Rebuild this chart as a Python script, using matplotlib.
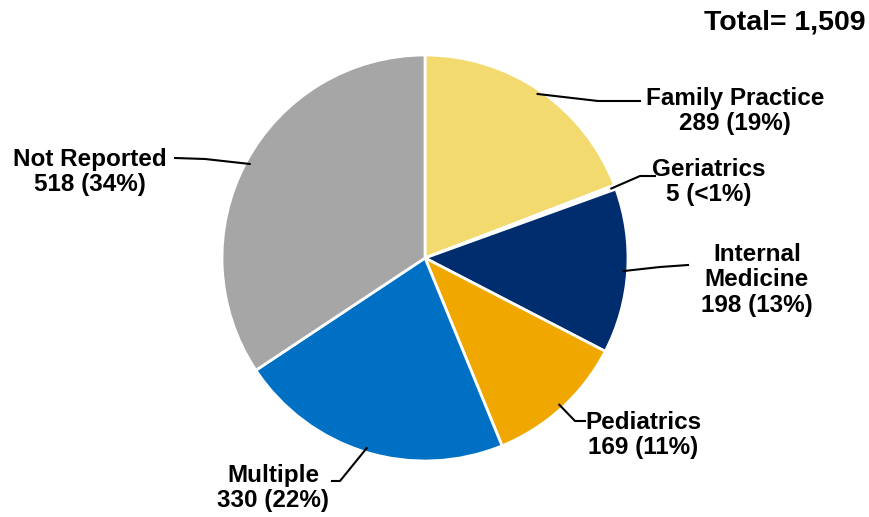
import numpy as np
import matplotlib.pyplot as plt

plt.rcParams['font.family'] = ['Liberation Sans', 'DejaVu Sans']

# Data
categories = ['Family Practice', 'Geriatrics', 'Internal\nMedicine', 'Pediatrics', 'Multiple', 'Not Reported']
counts = [289, 5, 198, 169, 330, 518]
pct_labels = ['19%', '<1%', '13%', '11%', '22%', '34%']
colors = ['#F2DA6E', '#FFFFFF', '#002D6E', '#F0A800', '#0070C4', '#A6A6A6']

W, H = 870, 517
cx, cy, R = 425, 258, 203

fig = plt.figure(figsize=(W / 100, H / 100), dpi=100)
ax = fig.add_axes([(cx - R) / W, (H - cy - R) / H, 2 * R / W, 2 * R / H])
wedges, _ = ax.pie(counts, colors=colors, startangle=90, counterclock=False,
                   radius=1, wedgeprops=dict(edgecolor='white', linewidth=2))
ax.set_xlim(-1, 1)
ax.set_ylim(-1, 1)
ax.set_aspect('equal')
ax.axis('off')


def px(x, y):
    # pixel position -> data coords of pie axes
    return (x - cx) / R, (cy - y) / R


# label layout (pixel): elbow point, line end, text centre
layout = [
    ((598, 101), (640, 101), (735, 111)),
    ((640, 176), (655, 176), (709, 182)),
    ((660, 267), (688, 265), (757, 280)),
    ((575, 421), (585, 421), (643, 435)),
    ((340, 481), (332, 481), (273, 488)),
    ((205, 159), (175, 158), (90, 172)),
]

total = sum(counts)
cum = 0
for i, c in enumerate(counts):
    mid = (cum + c / 2) / total * 2 * np.pi
    cum += c
    sx, sy = 0.98 * np.sin(mid), 0.98 * np.cos(mid)
    elbow, end, txt = layout[i]
    ex, ey = px(*elbow)
    fx, fy = px(*end)
    ax.plot([sx, ex, fx], [sy, ey, fy], color='black', lw=1.5, clip_on=False)
    tx, ty = px(*txt)
    ax.text(tx, ty, f'{categories[i]}\n{c} ({pct_labels[i]})', ha='center', va='center',
            fontsize=17.5, fontweight='bold', linespacing=1.12, clip_on=False)

fig.text(866 / W, 1 - 22 / H, f'Total= {total:,}', ha='right', va='center',
         fontsize=20.5, fontweight='bold')

fig.savefig('out.png', dpi=100)
